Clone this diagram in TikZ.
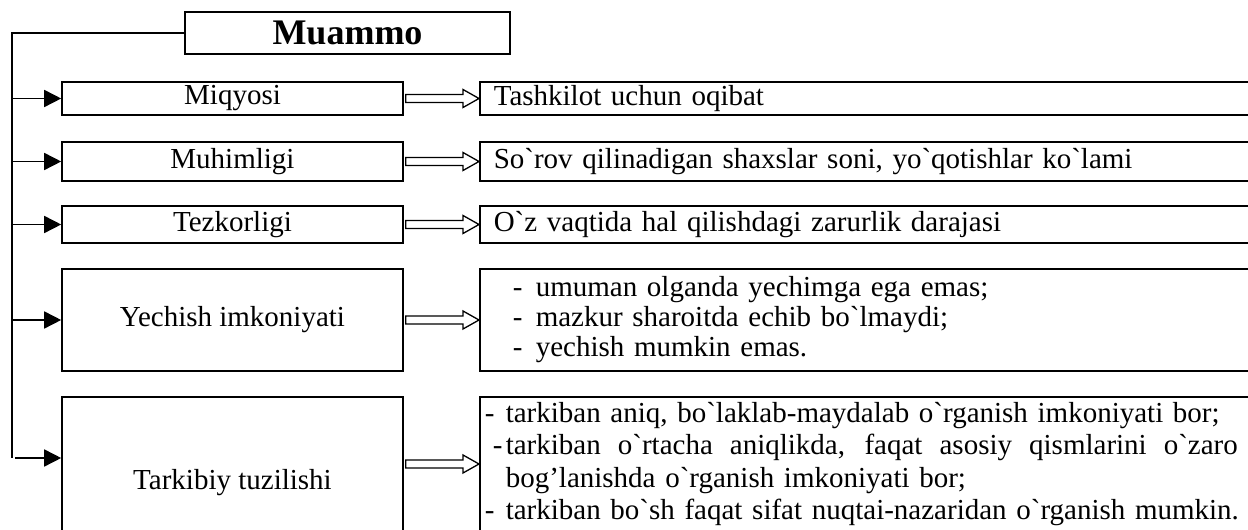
\documentclass[tikz,border=0pt]{standalone}
\usepackage{fontspec}
\setmainfont{Liberation Serif}[Ligatures=TeXOff]
\usetikzlibrary{arrows.meta,calc}
\newcommand{\hollowarrow}[3]{%
  \draw[line width=1.3pt,line join=miter]
    ($(#1.east |- #3)+(2,4)$) -- ($(#2.west |- #3)+(-16,4)$) -- ++(0,5)
    -- (#2.west |- #3) -- ++(-16,-9) -- ++(0,5)
    -- ($(#1.east |- #3)+(2,-4)$) -- cycle;}
\begin{document}
\begin{tikzpicture}[x=1pt,y=1pt,
  box/.style={draw,line width=1.6pt,inner sep=0pt,font=\fontsize{29}{30}\selectfont},
  lbox/.style={box,minimum width=341pt,minimum height=#1},
  rbox/.style={box,anchor=west,minimum height=#1,text width=768pt,inner xsep=14pt,align=left},
  feed/.style={line width=1.6pt,-{Triangle[length=17pt,width=17pt]}}]
  \useasboundingbox (0,0) rectangle (1248,530);
  \node[box,minimum width=325pt,minimum height=42pt,font=\fontsize{36}{40}\selectfont\bfseries] (muammo) at (347.5,497) {Muammo};
  \coordinate (top) at (12,497);
  \coordinate (bot) at (12,72);
  \node[lbox=33pt] (miq) at (232.5,431.5) {Miqyosi};
  \node[lbox=39pt] (muh) at (232.5,368.5) {Muhimligi};
  \node[lbox=37pt] (tez) at (232.5,305.5) {Tezkorligi};
  \node[lbox=102pt] (yech) at (232.5,210) {Yechish imkoniyati};
  \node[lbox=172pt] (tark) at (232.5,47) {Tarkibiy tuzilishi};
  \node[rbox=33pt] (oqibat) at (479,431.5) {Tashkilot uchun oqibat};
  \node[rbox=39pt] (soni) at (479,368.5) {So`rov qilinadigan shaxslar soni, yo`qotishlar ko`lami};
  \node[rbox=37pt] (daraja) at (479,305.5) {O`z vaqtida hal qilishdagi zarurlik darajasi};
  \node[rbox=102pt,inner xsep=0pt,text width=796pt] (holat) at (479,210)
    {\hspace*{33pt}\makebox[23pt][l]{-}umuman olganda yechimga ega emas;\\
     \hspace*{33pt}\makebox[23pt][l]{-}mazkur sharoitda echib bo`lmaydi;\\
     \hspace*{33pt}\makebox[23pt][l]{-}yechish mumkin emas.};
  \node[rbox=134pt,inner xsep=5pt,text width=786pt,font=\fontsize{29}{32.5}\selectfont] (tuzilma) at (479,66)
    {\makebox[21pt][l]{-}tarkiban aniq, bo`laklab-maydalab o`rganish imkoniyati bor;\\
     \hspace*{8pt}\makebox[13pt][l]{-}\makebox[732pt][s]{\spaceskip=0.25em plus 2em\relax tarkiban o`rtacha aniqlikda, faqat asosiy qismlarini o`zaro}\\
     \hspace*{21pt}bog’lanishda o`rganish imkoniyati bor;\\
     \makebox[21pt][l]{-}tarkiban bo`sh faqat sifat nuqtai-nazaridan o`rganish mumkin.};
  \draw[line width=1.6pt] (muammo.west) -- (top) -- (bot);
  \draw[feed] (top |- miq) -- (miq.west);
  \draw[feed] (top |- muh) -- (muh.west);
  \draw[feed] (top |- tez) -- (tez.west);
  \draw[feed] (top |- yech) -- (yech.west);
  \draw[feed] ([xshift=3pt]bot) -- (bot -| tark.west);
  \hollowarrow{miq}{oqibat}{miq}
  \hollowarrow{muh}{soni}{muh}
  \hollowarrow{tez}{daraja}{tez}
  \hollowarrow{yech}{holat}{yech}
  \hollowarrow{tark}{tuzilma}{tuzilma}
\end{tikzpicture}
\end{document}
